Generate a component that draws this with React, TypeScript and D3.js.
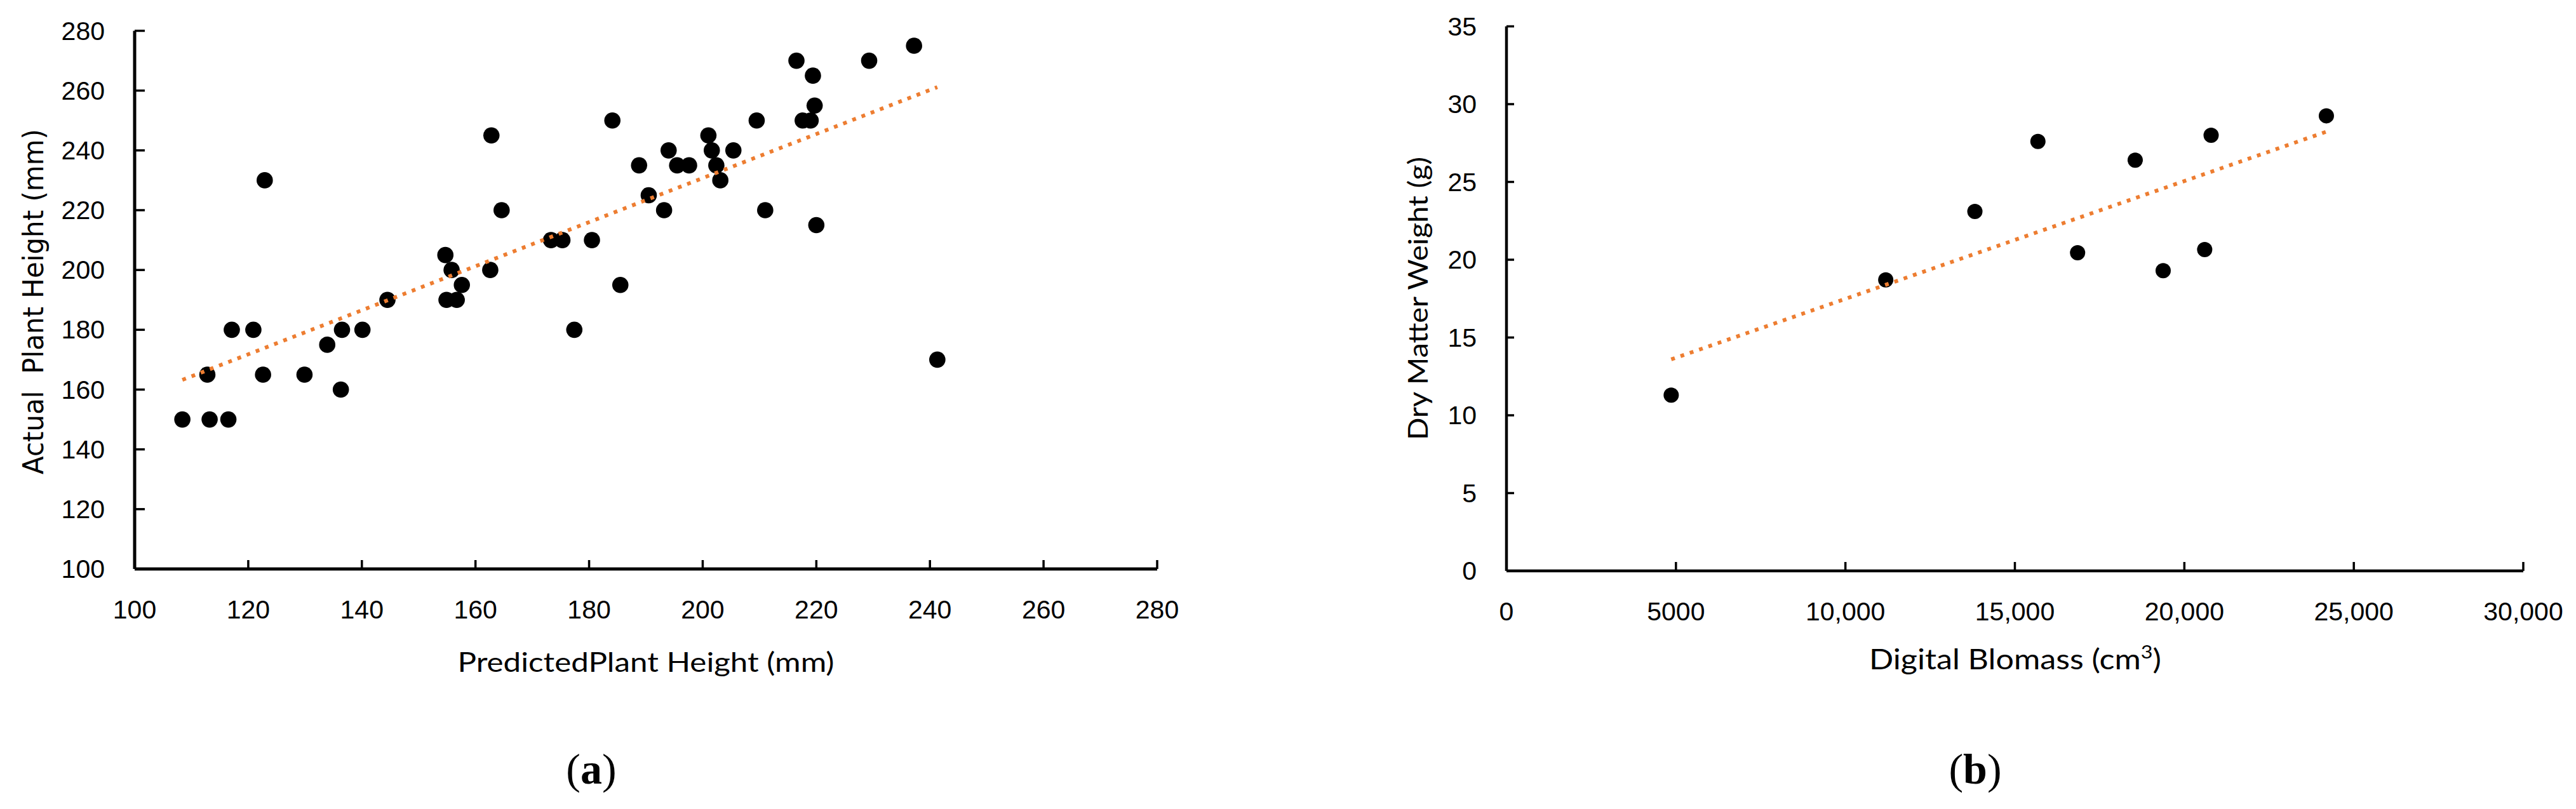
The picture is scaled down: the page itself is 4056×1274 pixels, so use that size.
import React from 'react';
import * as d3 from 'd3';

// (a) predicted vs actual plant height, mm
const predictedHeight = [
  108.4, 113.2, 116.5, 112.8, 117.1, 120.9, 122.9, 122.6, 129.9, 133.9,
  136.5, 136.3, 140.1, 144.5, 154.7, 155.8, 157.6, 154.9, 156.7, 162.8,
  164.6, 162.6, 173.3, 175.3, 180.5, 177.4, 184.1, 185.5, 188.8, 190.5,
  193.2, 194.0, 195.5, 197.6, 201.0, 201.6, 202.4, 203.1, 205.4, 209.5,
  211.0, 216.5, 219.4, 217.6, 219.0, 219.7, 220.0, 229.3, 237.2, 241.3,
];
const actualHeight = [
  150, 150, 150, 165, 180, 180, 230, 165, 165, 175,
  180, 160, 180, 190, 205, 200, 195, 190, 190, 245,
  220, 200, 210, 210, 210, 180, 250, 195, 235, 225,
  220, 240, 235, 235, 245, 240, 235, 230, 240, 250,
  220, 270, 265, 250, 250, 255, 215, 270, 275, 170,
];
const heightTicks = [100, 120, 140, 160, 180, 200, 220, 240, 260, 280];

// (b) digital biomass vs dry matter weight
const digitalBiomass = [4860, 11190, 13820, 15680, 16850, 18550, 19375, 20600, 20790, 24190];
const dryMatter = [11.3, 18.7, 23.1, 27.6, 20.45, 26.4, 19.3, 20.65, 28.0, 29.25];
const biomassTicks = [0, 5000, 10000, 15000, 20000, 25000, 30000];
const biomassTickLabels = ['0', '5000', '10,000', '15,000', '20,000', '25,000', '30,000'];
const dryTicks = [0, 5, 10, 15, 20, 25, 30, 35];

const ORANGE = '#ED7D31';
const TICK_FONT = '"Liberation Sans", Arial, sans-serif';
const TITLE_FONT = 'Lato, "Open Sans", sans-serif';

// ordinary least squares, like Excel's linear trendline
function fit(xs: number[], ys: number[]) {
  const mx = d3.mean(xs)!;
  const my = d3.mean(ys)!;
  let sxy = 0;
  let sxx = 0;
  xs.forEach((x, i) => {
    sxy += (x - mx) * (ys[i] - my);
    sxx += (x - mx) * (x - mx);
  });
  const slope = sxy / sxx;
  return (x: number) => my + slope * (x - mx);
}

type PanelProps = {
  xs: number[];
  ys: number[];
  x: d3.ScaleLinear<number, number>;
  y: d3.ScaleLinear<number, number>;
  xTicks: number[];
  xLabels: string[];
  yTicks: number[];
  r: number;
  yTickLen: number;
  xTickLen: number;
  axisWidth: number;
};

function Panel({ xs, ys, x, y, xTicks, xLabels, yTicks, r, yTickLen, xTickLen, axisWidth }: PanelProps) {
  const [x0, x1] = x.range();
  const [y0, y1] = y.range();
  const trend = fit(xs, ys);
  const [minX, maxX] = d3.extent(xs) as [number, number];
  const line = d3
    .line<number>()
    .x((d) => x(d))
    .y((d) => y(trend(d)));

  return (
    <g>
      {yTicks.map((t) => (
        <g key={'y' + t}>
          <line x1={x0} x2={x0 + yTickLen} y1={y(t)} y2={y(t)} stroke="#000" strokeWidth={3.5} />
          <text
            x={x0 - 47}
            y={y(t)}
            textAnchor="end"
            dominantBaseline="central"
            fontFamily={TICK_FONT}
            fontSize={41}
            fill="#000"
          >
            {t}
          </text>
        </g>
      ))}
      {xTicks.map((t, i) => (
        <g key={'x' + t}>
          <line x1={x(t)} x2={x(t)} y1={y0} y2={y0 - xTickLen} stroke="#000" strokeWidth={3.5} />
          <text
            x={x(t)}
            y={y0 + 64}
            textAnchor="middle"
            dominantBaseline="central"
            fontFamily={TICK_FONT}
            fontSize={41}
            fill="#000"
          >
            {xLabels[i]}
          </text>
        </g>
      ))}
      <line x1={x0} x2={x0} y1={y0} y2={y1} stroke="#000" strokeWidth={axisWidth} />
      <line x1={x0} x2={x1} y1={y0} y2={y0} stroke="#000" strokeWidth={axisWidth} />
      {xs.map((d, i) => (
        <circle key={i} cx={x(d)} cy={y(ys[i])} r={r} fill="#000" />
      ))}
      <path
        d={line([minX, maxX]) ?? ''}
        fill="none"
        stroke={ORANGE}
        strokeWidth={6}
        strokeDasharray="6 9.5"
      />
    </g>
  );
}

export default function App() {
  const xA = d3.scaleLinear().domain([100, 280]).range([212, 1822]);
  const yA = d3.scaleLinear().domain([100, 280]).range([896, 48.5]);
  const xB = d3.scaleLinear().domain([0, 30000]).range([2372, 3973]);
  const yB = d3.scaleLinear().domain([0, 35]).range([899, 41.5]);

  return (
    <svg
      width={4056}
      height={1274}
      viewBox="0 0 4056 1274"
      style={{ position: 'absolute', left: 0, top: 0, background: '#fff' }}
    >
      <rect width={4056} height={1274} fill="#fff" />
      <Panel
        xs={predictedHeight}
        ys={actualHeight}
        x={xA}
        y={yA}
        xTicks={heightTicks}
        xLabels={heightTicks.map(String)}
        yTicks={heightTicks}
        r={12.8}
        yTickLen={16}
        xTickLen={14}
        axisWidth={5}
      />
      <Panel
        xs={digitalBiomass}
        ys={dryMatter}
        x={xB}
        y={yB}
        xTicks={biomassTicks}
        xLabels={biomassTickLabels}
        yTicks={dryTicks}
        r={12}
        yTickLen={12}
        xTickLen={14}
        axisWidth={4.5}
      />

      {/* axis titles */}
      <text
        transform="translate(52,475) rotate(-90)"
        textAnchor="middle"
        dominantBaseline="central"
        fontFamily='"DejaVu Sans", sans-serif'
        fontSize={45}
        textLength={544}
        lengthAdjust="spacingAndGlyphs"
        style={{ whiteSpace: 'pre' }}
      >
        {'Actual  Plant Height (mm)'}
      </text>
      <text
        x={1017}
        y={1041}
        textAnchor="middle"
        dominantBaseline="central"
        fontFamily={TITLE_FONT}
        fontSize={43}
        textLength={593}
        lengthAdjust="spacingAndGlyphs"
      >
        PredictedPlant Height (mm)
      </text>
      <text
        transform="translate(2231,470) rotate(-90)"
        textAnchor="middle"
        dominantBaseline="central"
        fontFamily={TITLE_FONT}
        fontSize={43}
        textLength={446}
        lengthAdjust="spacingAndGlyphs"
      >
        Dry Matter Weight (g)
      </text>
      <text
        x={3173}
        y={1054}
        textAnchor="middle"
        fontFamily={TITLE_FONT}
        fontSize={45}
        textLength={460}
        lengthAdjust="spacingAndGlyphs"
      >
        Digital Blomass (cm
        <tspan dy={-17} fontSize={29}>
          3
        </tspan>
        <tspan dy={17}>)</tspan>
      </text>

      {/* panel letters */}
      <text x={931} y={1234} textAnchor="middle" fontFamily='"Liberation Serif", serif' fontSize={68}>
        (<tspan fontWeight="bold">a</tspan>)
      </text>
      <text x={3110} y={1234} textAnchor="middle" fontFamily='"Liberation Serif", serif' fontSize={68}>
        (<tspan fontWeight="bold">b</tspan>)
      </text>
    </svg>
  );
}
